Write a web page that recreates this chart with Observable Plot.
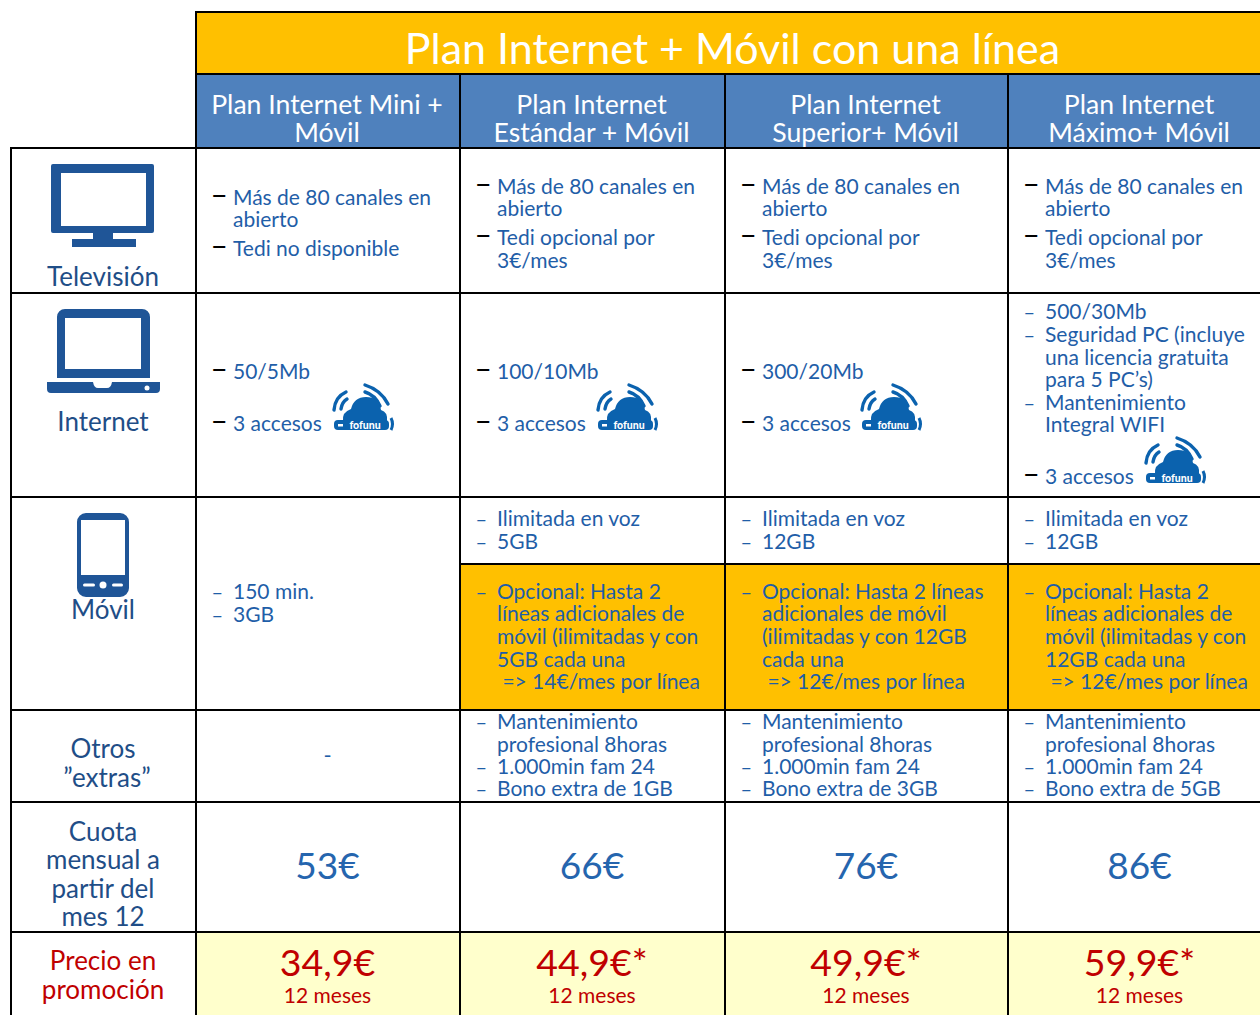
<!DOCTYPE html>
<html><head><meta charset="utf-8">
<script src="https://cdn.jsdelivr.net/npm/d3@7"></script>
<script src="https://cdn.jsdelivr.net/npm/@observablehq/plot@0.6"></script>
<style>html,body{margin:0;padding:0;background:#fff;overflow:hidden}svg{display:block}</style>
</head><body><div id="chart"></div>
<script>
const title = "Plan Internet + Móvil con una línea";
const plans = [["Plan Internet Mini +","Móvil"],["Plan Internet","Estándar + Móvil"],["Plan Internet","Superior+ Móvil"],["Plan Internet","Máximo+ Móvil"]];
const rowLabels = [
  {lines:["Televisión"], base:[285]},
  {lines:["Internet"], base:[430]},
  {lines:["Móvil"], base:[618]},
  {lines:["Otros","”extras”"], base:[757,786]},
  {lines:["Cuota","mensual a","partir del","mes 12"], base:[840,868,897,925]},
  {lines:["Precio en","promoción"], base:[969,998], red:true}
];
const tvMini = [["•","Más de 80 canales en",204],["","abierto",226],["•","Tedi no disponible",255]];
const tvRest = [["•","Más de 80 canales en",193],["","abierto",215],["•","Tedi opcional por",244],["","3€/mes",267]];
const speeds = ["50/5Mb","100/10Mb","300/20Mb"];
const speedBase = 378, accessBase = 430;
const internetMax = [["-","500/30Mb",318],["-","Seguridad PC (incluye",341],["","una licencia gratuita",364],["","para 5 PC’s)",386],["-","Mantenimiento",409],["","Integral WIFI",431],["•","3 accesos",483]];
const mobileMini = [["-","150 min.",598],["-","3GB",621]];
const mobileData = ["5GB","12GB","12GB"];
const extraText = [
  ["Opcional: Hasta 2","líneas adicionales de","móvil (ilimitadas y con","5GB cada una"," => 14€/mes por línea"],
  ["Opcional: Hasta 2 líneas","adicionales de móvil","(ilimitadas y con 12GB","cada una"," => 12€/mes por línea"],
  ["Opcional: Hasta 2","líneas adicionales de","móvil (ilimitadas y con","12GB cada una"," => 12€/mes por línea"]
];
const extraBase = [598,620,643,666,688];
const bonus = ["Bono extra de 1GB","Bono extra de 3GB","Bono extra de 5GB"];
const otherBase = [728,751,773,795];
const fees = ["53€","66€","76€","86€"];
const promos = ["34,9€","44,9€*","49,9€*","59,9€*"];
const promoTerm = "12 meses";

// table grid
const colEdges = [11,196,460,725,1008,1272];
const BLUE="#1f5ea8", NAVY="#1f4e87", RED="#c00000", GOLD="#FFC000", HEAD="#4F81BD", PALE="#FFFFCC";

const cellCol = i => colEdges[i+1];
const cellMid = i => (colEdges[i+1]+colEdges[i+2])/2;
const body = [];
const add = (c, rows) => rows.forEach(([b,t,y]) => body.push({c,b,t,y}));
add(0, tvMini); [1,2,3].forEach(c=>add(c,tvRest));
speeds.forEach((s,c)=>add(c,[["•",s,speedBase],["•","3 accesos",accessBase]]));
add(3, internetMax);
add(0, mobileMini);
[1,2,3].forEach((c,k)=>{
  add(c,[["-","Ilimitada en voz",525],["-",mobileData[k],548]]);
  extraText[k].forEach((t,i)=>add(c,[[i==0?"-":"",t,extraBase[i]]]));
  add(c,[["-","Mantenimiento",otherBase[0]],["","profesional 8horas",otherBase[1]],["-","1.000min fam 24",otherBase[2]],["-",bonus[k],otherBase[3]]]);
});
const dashes = body.filter(d=>d.b);
const labels = rowLabels.flatMap(r=>r.lines.map((t,i)=>({t,y:r.base[i],red:r.red})));

const FONT="Lato";
const rects = [
  {x1:196,x2:1260,y1:12,y2:74,f:GOLD},
  {x1:196,x2:1260,y1:74,y2:148,f:HEAD},
  {x1:460,x2:1260,y1:564,y2:710,f:GOLD},
  {x1:196,x2:1260,y1:932,y2:1015,f:PALE}
];
const hLines = [
  {y:12,a:196,b:1260},{y:74,a:196,b:1260},{y:148,a:10,b:1260},{y:293,a:10,b:1260},{y:497,a:10,b:1260},
  {y:564,a:460,b:1260},{y:710,a:10,b:1260},{y:802,a:10,b:1260},{y:932,a:10,b:1260}
];
const vLines = [
  {x:11,a:147,b:1015},{x:196,a:11,b:1015},{x:460,a:74,b:1015},{x:725,a:74,b:1015},{x:1008,a:74,b:1015}
];
function icon(x0,y0,w,h,vw,vh,inner){
  return (i,{x,y})=>{
    const g=d3.create("svg:g").attr("transform",`translate(${x(x0)},${y(y0)}) scale(${(x(x0+w)-x(x0))/vw},${(y(y0+h)-y(y0))/vh})`);
    g.html(inner);
    return g.node();
  };
}
const ICON="#1f5597";
const tv=`<path fill="${ICON}" fill-rule="evenodd" d="M2 0H101a2 2 0 0 1 2 2V67a2 2 0 0 1-2 2H62V75H85V83H21V75H42V69H2a2 2 0 0 1-2-2V2a2 2 0 0 1 2-2ZM10 9V62H95V9Z"/>`;
const laptop=`<path fill="${ICON}" fill-rule="evenodd" d="M18 0H95a8 8 0 0 1 8 8V69H10V8a8 8 0 0 1 8-8ZM18 9V60H94V9Z"/><path fill="${ICON}" d="M0 73H46q1 6 5 6H60q4 0 5-6H113V80q0 4-4 4H4q-4 0-4-4Z"/><circle cx="100" cy="79" r="2.5" fill="#fff"/>`;
const phone=`<path fill="${ICON}" fill-rule="evenodd" d="M9 0H43a9 9 0 0 1 9 9V75a9 9 0 0 1-9 9H9A9 9 0 0 1 0 75V9A9 9 0 0 1 9 0ZM4 7V62H48V7Z"/><circle cx="26" cy="72" r="3.5" fill="#fff"/><rect x="6" y="70.5" width="12" height="3" rx="1.5" fill="#fff"/><rect x="35" y="70.5" width="11" height="3" rx="1.5" fill="#fff"/>`;
const CL="#0b62ae";
const cloud=`<g fill="none" stroke="${CL}" stroke-width="3.4" stroke-linecap="round"><path d="M3 27q1-13 12-18"/><path d="M10 26q1-7 6-10"/><path d="M34 2q16 5 23 19"/><path d="M34 9q10 3 15 14"/></g>
<path fill="${CL}" d="M12 38q-1-9 8-12q3-12 15-12q13 0 15 13q7 2 6 11Z"/>
<rect x="3" y="37" width="55" height="10" rx="4" fill="${CL}"/>
<path d="M60 35q3 6 0 12" fill="none" stroke="${CL}" stroke-width="3"/>
<text x="34" y="45.5" font-family="Lato" font-weight="900" font-size="10.5" fill="#fff" text-anchor="middle">fofunu</text><rect x="7" y="41" width="5" height="2.5" fill="#fff"/>`;

const clouds = [[331,383],[595,383],[859,383],[1143,436]];

const plot = Plot.plot({
  width:1260,height:1015,margin:0,
  x:{domain:[0,1260],range:[0,1260],axis:null},
  y:{domain:[0,1015],range:[0,1015],axis:null},
  style:{fontFamily:FONT,background:"#fff"},
  marks:[
    Plot.rect(rects,{x1:"x1",x2:"x2",y1:"y1",y2:"y2",fill:"f"}),
    Plot.ruleY(hLines,{y:"y",x1:"a",x2:"b",stroke:"#000",strokeWidth:2,dy:-0.5}),
    Plot.ruleX(vLines,{x:"x",y1:"a",y2:"b",stroke:"#000",strokeWidth:2,dx:-0.5}),
    Plot.text([title],{x:732,y:63,text:d=>d,fill:"#fff",fontSize:43,textAnchor:"middle",lineAnchor:"bottom"}),
    Plot.text(plans.flatMap((p,c)=>p.map((t,i)=>({t,c,i}))),{x:d=>cellMid(d.c)-1.5,y:d=>113+d.i*28,text:"t",fill:"#fff",fontSize:26.6,textAnchor:"middle",lineAnchor:"bottom"}),
    Plot.text(labels,{x:d=>102.5+(d.t.startsWith("”")?4:0),y:"y",text:"t",fill:d=>d.red?RED:NAVY,fontSize:26,textAnchor:"middle",lineAnchor:"bottom"}),
    Plot.text(body,{x:d=>cellCol(d.c)+36.5,y:"y",text:"t",fill:BLUE,fontSize:21,textAnchor:"start",lineAnchor:"bottom"}),
    Plot.text(dashes.filter(d=>d.b==="•"),{x:d=>cellCol(d.c)+14,y:"y",text:()=>"–",fill:"#000",fontSize:30,fontWeight:400,textAnchor:"start",lineAnchor:"bottom"}),
    Plot.text(dashes.filter(d=>d.b==="-"),{x:d=>cellCol(d.c)+15,y:"y",text:()=>"–",fill:BLUE,fontSize:20,textAnchor:"start",lineAnchor:"bottom"}),
    Plot.text(["-"],{x:327,y:762,text:d=>d,fill:BLUE,fontSize:22,textAnchor:"middle",lineAnchor:"bottom"}),
    Plot.text(fees,{x:(d,i)=>cellMid(i)-1,y:878,text:d=>d,fill:"#2565ae",fontSize:37,textAnchor:"middle",lineAnchor:"bottom"}),
    Plot.text(promos,{x:(d,i)=>cellMid(i)-1,y:975,text:d=>d,fill:RED,fontSize:37.5,textAnchor:"middle",lineAnchor:"bottom"}),
    Plot.text(promos,{x:(d,i)=>cellMid(i)-1,y:1002,text:()=>promoTerm,fill:RED,fontSize:21,textAnchor:"middle",lineAnchor:"bottom"}),
    icon(51,164,104,83,104,83,tv),
    icon(47,309,113,84,113,84,laptop),
    icon(77,513,53,84,53,84,phone),
    ...clouds.map(([a,b])=>icon(a,b,63,48,63,48,cloud))
  ]
});
document.getElementById("chart").appendChild(plot);
</script></body></html>
